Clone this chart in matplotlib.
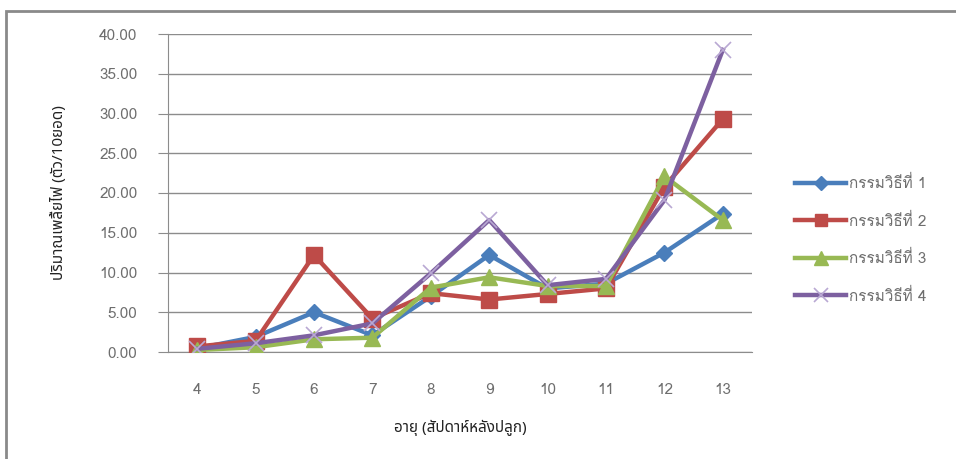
import matplotlib
matplotlib.use("Agg")
import matplotlib.pyplot as plt
from matplotlib.patches import Rectangle

# weeks after planting and thrips counts per treatment
weeks = ["4", "5", "6", "7", "8", "9", "10", "11", "12", "13"]
treat1 = [0.45, 1.9, 5.0, 2.1, 7.0, 12.2, 8.0, 8.6, 12.5, 17.4]
treat2 = [0.7, 1.4, 12.2, 4.2, 7.4, 6.6, 7.3, 8.0, 20.8, 29.3]
treat3 = [0.25, 0.6, 1.6, 1.8, 8.1, 9.4, 8.3, 8.3, 22.1, 16.6]
treat4 = [0.4, 1.1, 2.1, 3.6, 9.9, 16.6, 8.4, 9.2, 19.1, 38.0]
labels = ["กรรมวิธีที่ 1", "กรรมวิธีที่ 2", "กรรมวิธีที่ 3", "กรรมวิธีที่ 4"]
yticks = [0, 5, 10, 15, 20, 25, 30, 35, 40]

W, H = 956, 459
fig = plt.figure(figsize=(W / 100, H / 100), dpi=100)
ax = fig.add_axes([168 / W, (H - 352) / H, (752 - 168) / W, (352 - 34) / H])

x = range(len(weeks))
styles = [
    dict(color="#4A7EBB", marker="D", ms=8, mfc="#4A7EBB", mec="#4A7EBB"),
    dict(color="#BE4B48", marker="s", ms=11, mfc="#BE4B48", mec="#BE4B48"),
    dict(color="#98B954", marker="^", ms=12, mfc="#98B954", mec="#98B954"),
    dict(color="#7D60A0", marker="x", ms=12, mec="#B9A8D3", mew=1.2),
]
for i, (vals, st) in enumerate(zip([treat1, treat2, treat3, treat4], styles)):
    ax.plot(x, vals, lw=3.2, label=labels[i], zorder=3 + i, **st)

ax.set_xlim(-0.5, len(weeks) - 0.5)
ax.set_ylim(0, 40)
ax.set_yticks(yticks)
ax.set_yticklabels(["%.2f" % v for v in yticks])
ax.set_xticks(list(x))
ax.set_xticklabels(weeks)

grid_col = "#8C8C8C"
ax.grid(axis="y", color=grid_col, lw=1.0)
ax.set_axisbelow(True)
for s in ["top", "right"]:
    ax.spines[s].set_visible(False)
ax.spines["left"].set_color(grid_col)
ax.spines["bottom"].set_color(grid_col)
ax.tick_params(axis="y", length=7, color=grid_col, pad=15, labelsize=11,
               labelcolor="#6E6E6E")
ax.tick_params(axis="x", length=0, pad=22, labelsize=11, labelcolor="#6E6E6E")
for t in ax.get_xticklabels() + ax.get_yticklabels():
    t.set_family(["Loma", "DejaVu Sans"])

ax.set_ylabel("ปริมาณเพลี้ยไฟ (ตัว/10ยอด)", family=["Noto Sans Thai", "DejaVu Sans"],
              fontsize=11, color="#222222", labelpad=23)
ax.set_xlabel("อายุ (สัปดาห์หลังปลูก)", family=["Noto Sans Thai", "DejaVu Sans"],
              fontsize=11, color="#222222", labelpad=17)

leg = ax.legend(loc="upper left", bbox_to_anchor=(795 / W, (H - 175) / H),
                bbox_transform=fig.transFigure, frameon=False, handlelength=3.35,
                handletextpad=0.2, labelspacing=1.4, borderaxespad=0,
                borderpad=0, markerscale=0.85,
                prop=dict(family=["Loma", "DejaVu Sans"], size=11))
for t in leg.get_texts():
    t.set_color("#6E6E6E")

# outer chart frame
fig.patches.append(Rectangle((6 / W, -0.05), 1.1, (H - 11) / H + 0.05,
                             transform=fig.transFigure, fill=False,
                             ec="#8A8A8A", lw=2, clip_on=False))

fig.savefig("out.png", dpi=100)
